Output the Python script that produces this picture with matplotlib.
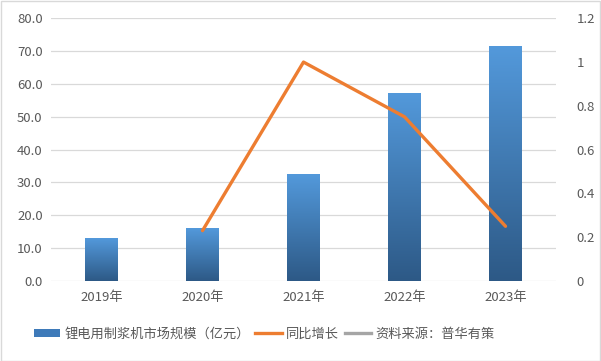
import numpy as np
import matplotlib
matplotlib.use("Agg")
import matplotlib.pyplot as plt
from matplotlib.patches import Patch, Rectangle
from matplotlib.lines import Line2D
from matplotlib.colors import LinearSegmentedColormap

plt.rcParams['font.family'] = ['Noto Sans CJK SC', 'DejaVu Sans']

years = ["2019年", "2020年", "2021年", "2022年", "2023年"]
market_size = [13.0, 16.0, 32.3, 57.0, 71.5]
growth_years = ["2020年", "2021年", "2022年", "2023年"]
growth = [0.23, 1.0, 0.75, 0.25]
bar_label = "锂电用制浆机市场规模（亿元）"
line_label = "同比增长"
source_label = "资料来源：普华有策"
left_ticks = [0, 10, 20, 30, 40, 50, 60, 70, 80]
right_ticks = [0, 0.2, 0.4, 0.6, 0.8, 1.0, 1.2]
right_tick_labels = ["0", "0.2", "0.4", "0.6", "0.8", "1", "1.2"]

W, H = 601, 361
fig = plt.figure(figsize=(W / 100, H / 100), dpi=100)
fig.patch.set_facecolor("white")

ax = fig.add_axes([51 / W, 1 - 281 / H, 505 / W, (281 - 18.3) / H])
x = np.arange(len(years))
bw = 0.32
cmap = LinearSegmentedColormap.from_list("g", ["#2D5986", "#5399DB"])
grad = np.linspace(0, 1, 256).reshape(-1, 1)
bars = ax.bar(x, market_size, width=bw, color="none", zorder=2)
for b in bars:
    bx, by, bwid, bh = b.get_x(), b.get_y(), b.get_width(), b.get_height()
    ax.imshow(grad, extent=[bx, bx + bwid, by, by + bh], origin="lower",
              cmap=cmap, aspect="auto", zorder=2)
ax.set_xlim(-0.5, len(years) - 0.5)
ax.set_ylim(0, 80)
ax.set_yticks(left_ticks)
ax.set_yticklabels([f"{v:.1f}" for v in left_ticks])
ax.set_xticks(x)
ax.set_xticklabels(years)
ax.grid(axis="y", color="#D9D9D9", linewidth=0.9, zorder=0)
ax.set_axisbelow(True)
for s in ax.spines.values():
    s.set_visible(False)
ax.tick_params(length=0, labelsize=9.5, colors="#595959", pad=6)
ax.tick_params(axis="x", pad=7)

ax2 = ax.twinx()
gx = [years.index(g) for g in growth_years]
ax2.plot(gx, growth, color="#ED7D31", linewidth=2.4, zorder=3,
         solid_capstyle="round")
ax2.set_ylim(0, 1.2)
ax2.set_yticks(right_ticks)
ax2.set_yticklabels(right_tick_labels)
for s in ax2.spines.values():
    s.set_visible(False)
ax2.tick_params(length=0, labelsize=9.5, colors="#595959", pad=15)
ax.set_xlim(-0.5, len(years) - 0.5)

handles = [Patch(facecolor="#3E7AB9", edgecolor="none"),
           Line2D([0], [0], color="#ED7D31", linewidth=2.4),
           Line2D([0], [0], color="#A5A5A5", linewidth=2.4)]
fig.legend(handles, [bar_label, line_label, source_label], loc="center",
           bbox_to_anchor=(264 / W, 1 - 334 / H), ncol=3, frameon=False,
           fontsize=9.5, handlelength=2.0, handleheight=0.6,
           columnspacing=0.45, handletextpad=0.3, labelcolor="#595959")

fig.add_artist(Rectangle((0.5 / W, 0.5 / H), 1 - 1.5 / W, 1 - 1.5 / H,
                         transform=fig.transFigure, facecolor="none",
                         edgecolor="#D9D9D9", linewidth=1))
fig.savefig("out.png", dpi=100)
